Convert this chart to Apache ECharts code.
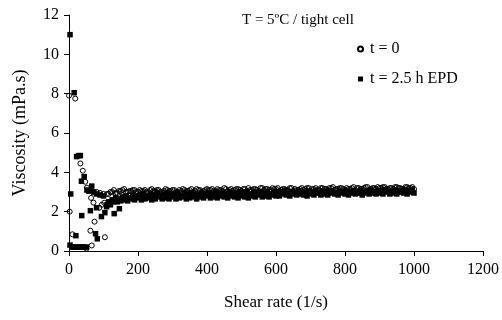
<!DOCTYPE html>
<html><head><meta charset="utf-8">
<script src="https://cdn.jsdelivr.net/npm/echarts@6/dist/echarts.min.js"></script>
<style>html,body{margin:0;padding:0;background:#fff}#c{width:502px;height:320px}</style>
</head><body><div id="c"></div>
<script>
// Tick values
var xTicks = [0, 200, 400, 600, 800, 1000, 1200];
var yTicks = [0, 2, 4, 6, 8, 10, 12];

// t = 0 (open circles), low shear region
var t0EarlyRate = [0, 18, 2, 10, 33, 40, 47, 52, 51, 62, 66, 64, 71, 74, 88, 95, 104, 102, 55, 60, 70, 80, 90, 100];
var t0EarlyVisc = [7.9, 7.75, 2.0, 0.85, 4.45, 4.08, 3.52, 3.22, 0.12, 1.03, 0.28, 2.7, 2.46, 1.49, 2.2, 2.35, 0.7, 2.45, 3.05, 3.1, 3.0, 3.0, 2.95, 2.9];

// t = 2.5 h EPD (filled squares), low shear region
var t25EarlyRate = [3, 15, 5, 22, 28, 33, 36, 44, 52, 58, 66, 72, 80, 90, 100, 37, 62, 80, 94, 104, 109, 131, 146, 77, 82, 20, 3, 8, 14, 20, 26, 32, 38, 44, 50, 120];
var t25EarlyVisc = [11.0, 8.05, 2.9, 4.8, 4.85, 4.85, 3.55, 3.78, 3.1, 3.05, 3.3, 3.0, 2.9, 2.85, 2.8, 1.8, 2.05, 2.2, 1.75, 1.95, 2.25, 1.9, 2.15, 0.88, 0.62, 0.78, 0.3, 0.2, 0.2, 0.2, 0.2, 0.2, 0.2, 0.2, 0.2, 2.35];

// Plateau region shear rates
var bandRate = [110,120,130,140,150,160,170,180,190,200,210,220,230,240,250,260,270,280,290,300,310,320,330,340,350,360,370,380,390,400,410,420,430,440,450,460,470,480,490,500,510,520,530,540,550,560,570,580,590,600,610,620,630,640,650,660,670,680,690,700,710,720,730,740,750,760,770,780,790,800,810,820,830,840,850,860,870,880,890,900,910,920,930,940,950,960,970,980,990,1000];
var bandRateB = [115,125,135,145,155,165,175,185,195,205,215,225,235,245,255,265,275,285,295,305,315,325,335,345,355,365,375,385,395,405,415,425,435,445,455,465,475,485,495,505,515,525,535,545,555,565,575,585,595,605,615,625,635,645,655,665,675,685,695,705,715,725,735,745,755,765,775,785,795,805,815,825,835,845,855,865,875,885,895,905,915,925,935,945,955,965,975,985,995];

var t0Band = [2.9,3.0,3.1,2.95,3.05,3.15,3.0,3.05,3.1,3.0,
3.05,3.1,3.0,3.15,3.05,3.1,3.0,3.15,3.05,3.1,
3.0,3.1,3.15,3.05,3.1,3.0,3.15,3.1,3.05,3.15,
3.1,3.05,3.15,3.1,3.2,3.05,3.15,3.1,3.15,3.05,
3.15,3.2,3.1,3.15,3.05,3.2,3.15,3.1,3.2,3.15,
3.05,3.15,3.1,3.2,3.05,3.1,3.15,3.1,3.2,3.05,
3.15,3.1,3.2,3.15,3.1,3.2,3.1,3.15,3.2,3.1,
3.15,3.2,3.1,3.2,3.15,3.25,3.1,3.2,3.15,3.2,
3.25,3.15,3.2,3.15,3.25,3.2,3.15,3.25,3.2,3.15];

var t0BandB = [2.9,3.0,2.95,3.05,3.1,3.0,3.05,3.1,3.0,
3.1,3.05,3.0,3.1,3.05,3.1,3.0,3.05,3.1,3.05,
3.1,3.0,3.05,3.1,3.05,3.15,3.05,3.1,3.0,3.1,
3.1,3.15,3.05,3.1,3.05,3.15,3.1,3.05,3.15,3.1,
3.15,3.05,3.1,3.15,3.1,3.2,3.1,3.15,3.1,3.15,
3.2,3.1,3.15,3.1,3.2,3.15,3.1,3.2,3.15,3.2,
3.15,3.2,3.1,3.2,3.15,3.2,3.25,3.15,3.2,3.15,
3.2,3.15,3.25,3.2,3.15,3.2,3.25,3.15,3.2,3.25,
3.2,3.25,3.15,3.2,3.25,3.2,3.15,3.25,3.2,3.25];

var t25Band = [2.35,2.45,2.5,2.5,2.55,2.6,2.55,2.65,2.6,2.7,
2.6,2.65,2.7,2.6,2.65,2.75,2.65,2.7,2.65,2.75,
2.65,2.7,2.75,2.65,2.7,2.75,2.65,2.75,2.7,2.8,
2.7,2.75,2.7,2.8,2.75,2.7,2.8,2.75,2.7,2.8,
2.75,2.7,2.8,2.75,2.85,2.75,2.8,2.75,2.85,2.8,
2.8,2.9,2.85,2.8,2.9,2.85,2.9,2.85,2.8,2.9,
2.85,2.95,2.85,2.9,2.85,2.95,2.9,2.85,2.95,2.9,
2.85,2.95,2.9,2.95,2.85,2.95,2.9,2.95,2.9,2.95,
2.9,3.0,2.9,2.95,2.9,3.0,2.95,2.9,3.0,2.95];

var t25BandB = [2.5,2.6,2.7,2.65,2.75,2.8,2.7,2.85,2.8,
2.85,2.9,2.8,2.9,2.85,2.95,2.85,2.9,2.95,2.85,
2.9,2.95,2.85,2.95,2.9,2.95,2.9,2.85,2.95,2.9,
2.95,2.9,3.0,2.9,2.95,2.9,3.0,2.95,2.9,3.0,
2.95,3.0,2.9,3.0,2.95,3.0,2.95,3.0,2.9,3.0,
3.0,2.95,3.05,2.95,3.0,2.95,3.05,3.0,2.95,3.05,
3.0,3.05,2.95,3.05,3.0,3.05,3.0,2.95,3.05,3.0,
3.05,3.0,3.05,2.95,3.05,3.0,3.05,3.1,3.0,3.05,
3.05,3.1,3.0,3.05,3.1,3.05,3.0,3.1,3.05,3.1];

function pairs(xs, ys){ var o=[]; for(var i=0;i<xs.length;i++){o.push([xs[i],ys[i]]);} return o; }

var FONT = '"Liberation Serif","DejaVu Serif",serif';
var chart = echarts.init(document.getElementById('c'), null, {renderer:'canvas'});
chart.setOption({
  animation:false,
  backgroundColor:'#fff',
  textStyle:{fontFamily:FONT,color:'#000'},
  title:{text:'T = 5ºC / tight cell', left:237, top:8, textStyle:{fontFamily:FONT,fontSize:15,fontWeight:'normal',color:'#000'}},
  legend:{orient:'vertical', left:352, top:36, itemGap:14, itemWidth:5, itemHeight:5,
    textStyle:{fontFamily:FONT,fontSize:16,color:'#000',padding:[0,0,0,2]},
    data:[{name:'t = 0', icon:'circle'},{name:'t = 2.5 h EPD', icon:'rect'}]},
  grid:{left:69, right:19, top:15, bottom:69, containLabel:false},
  xAxis:{type:'value', min:0, max:1200, interval:200,
    name:'Shear rate (1/s)', nameLocation:'middle', nameGap:43,
    nameTextStyle:{fontFamily:FONT,fontSize:17,color:'#000'},
    axisLine:{lineStyle:{color:'#000',width:1}},
    axisTick:{inside:false,length:5,lineStyle:{color:'#000'}},
    axisLabel:{fontFamily:FONT,fontSize:16,color:'#000',margin:11,
      formatter:function(v){return String(v);}},
    splitLine:{show:false}},
  yAxis:{type:'value', min:0, max:12, interval:2,
    name:'Viscosity (mPa.s)', nameLocation:'middle', nameGap:40, nameRotate:90,
    nameTextStyle:{fontFamily:FONT,fontSize:18,color:'#000'},
    axisLine:{show:true,lineStyle:{color:'#000',width:1}},
    axisTick:{show:true,inside:false,length:5,lineStyle:{color:'#000'}},
    axisLabel:{fontFamily:FONT,fontSize:16,color:'#000',margin:10,
      formatter:function(v){return String(v);}},
    splitLine:{show:false}},
  series:[
    {name:'t = 0', type:'scatter', symbol:'circle', symbolSize:5,
      itemStyle:{color:'rgba(255,255,255,0)',borderColor:'#000',borderWidth:1,opacity:1}, data:pairs(t0EarlyRate,t0EarlyVisc).concat(pairs(bandRate,t0Band)).concat(pairs(bandRateB,t0BandB)), z:2},
    {name:'t = 2.5 h EPD', type:'scatter', symbol:'rect', symbolSize:5.5,
      itemStyle:{color:'#000',opacity:1}, data:pairs(t25EarlyRate,t25EarlyVisc).concat(pairs(bandRate,t25Band)).concat(pairs(bandRateB,t25BandB)), z:3}
  ]
});
</script></body></html>
